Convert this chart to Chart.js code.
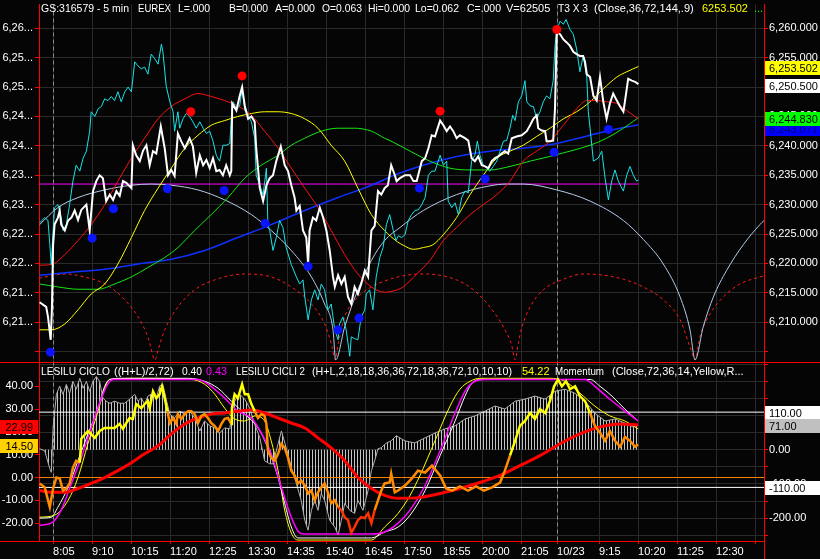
<!DOCTYPE html>
<html><head><meta charset="utf-8">
<script src="https://cdn.jsdelivr.net/npm/chart.js@4.4.1/dist/chart.umd.min.js"></script>
<style>html,body{margin:0;padding:0;background:#050505;overflow:hidden}canvas{display:block}</style>
</head><body><canvas id="c" width="820" height="559"></canvas>
<script>
// ---------- axes / ticks ----------
const X_RANGE = [0, 241.67];
const TICK_BARS = [4.7,17.7,30.7,43.7,56.7,69.7,82.7,95.7,108.7,121.7,134.7,147.7,160.7,172.7,186.7,199.7,212.7,225.7,238.7];
const TIME_LABELS = ['8:05','9:10','10:15','11:20','12:25','13:30','14:35','15:40','16:45','17:50','18:55','20:00','21:05','10/23','9:15','10:20','11:25','12:30',''];
const DAY_BREAKS = [4.7, 172.7];
const TOP_TICKS = [6205,6210,6215,6220,6225,6230,6235,6240,6245,6250,6255,6260];
const TOP_RANGE = [6203.14, 6264.05];
const LOW_TICKS = [-20,-10,0,10,20,30,40];
const LOW_RANGE = [-27.83, 50.43];
const OSC_TICKS = [-250,-200,-150,-100,-50,0,50,100,150,200,250];
const OSC_LABELED = [0,-100,-200];
const OSC_RANGE = [-266.6, 255.1];

// ---------- price panel series ([bar, value]) ----------
const PRICE = [[0.2,6213.4],[2.4,6212.6],[3.0,6210.9],[3.9,6207.0],[4.3,6212.1],[4.7,6223.2],[5.2,6226.6],[6.3,6227.8],[6.9,6229.0],[7.4,6226.6],[8.6,6225.6],[9.7,6227.3],[10.8,6227.8],[11.9,6229.0],[13.0,6227.4],[14.1,6229.1],[15.8,6230.0],[16.9,6225.6],[18.0,6232.3],[19.1,6234.0],[20.2,6235.0],[21.3,6234.5],[22.4,6230.6],[23.6,6231.7],[24.7,6230.8],[25.8,6232.3],[26.9,6231.5],[28.0,6234.0],[29.1,6233.7],[30.8,6232.8],[31.3,6240.1],[32.4,6238.4],[33.6,6237.4],[34.7,6239.2],[35.8,6240.1],[36.9,6236.7],[38.0,6239.1],[39.1,6238.7],[40.6,6243.3],[41.9,6239.6],[43.0,6235.0],[44.1,6235.9],[45.2,6234.9],[46.3,6242.1],[47.4,6240.8],[48.6,6239.6],[50.2,6241.3],[51.3,6239.9],[52.4,6235.4],[53.6,6238.4],[54.7,6236.7],[55.8,6237.6],[56.9,6236.2],[58.0,6237.9],[59.1,6235.7],[60.2,6235.9],[61.3,6235.0],[62.4,6236.7],[63.6,6235.0],[64.1,6235.7],[64.4,6247.2],[65.8,6246.0],[66.9,6248.5],[67.7,6250.0],[68.6,6246.8],[69.7,6244.6],[70.8,6245.0],[71.9,6244.1],[72.4,6239.6],[73.6,6232.8],[74.7,6230.6],[75.8,6233.3],[76.9,6234.5],[78.0,6235.0],[79.1,6237.4],[80.6,6239.9],[81.9,6236.7],[83.0,6235.7],[84.1,6233.3],[85.2,6231.2],[85.8,6229.0],[86.9,6229.8],[88.0,6225.6],[89.1,6224.4],[89.7,6219.9],[90.2,6225.6],[91.3,6227.8],[92.4,6227.3],[93.6,6229.5],[94.7,6227.8],[95.8,6225.6],[96.9,6222.2],[98.0,6217.7],[98.6,6216.0],[99.7,6218.0],[100.8,6216.5],[101.9,6217.7],[103.0,6214.3],[104.1,6213.1],[105.2,6216.0],[106.3,6214.8],[107.4,6216.5],[108.6,6218.8],[109.7,6217.7],[110.8,6225.6],[111.9,6226.4],[113.0,6232.3],[114.1,6231.7],[115.2,6232.8],[116.3,6233.3],[117.4,6236.7],[118.6,6235.0],[119.2,6234.0],[120.3,6234.5],[122.0,6235.0],[123.7,6235.0],[124.8,6234.0],[125.9,6234.0],[127.6,6237.4],[128.7,6237.9],[129.8,6239.6],[130.9,6241.8],[132.0,6241.6],[133.7,6244.3],[134.8,6243.5],[135.9,6242.5],[137.0,6243.3],[138.1,6242.5],[139.2,6241.3],[140.3,6241.8],[142.0,6241.3],[143.1,6240.9],[144.2,6237.9],[145.3,6237.4],[146.4,6238.2],[147.6,6236.7],[148.7,6236.5],[149.8,6236.2],[150.9,6237.4],[152.0,6237.9],[153.1,6238.2],[154.2,6238.7],[155.3,6239.1],[156.4,6238.7],[157.6,6241.3],[159.2,6241.6],[160.9,6241.8],[162.6,6242.5],[163.7,6243.5],[164.8,6244.6],[165.9,6245.2],[166.4,6243.0],[167.6,6242.6],[168.7,6242.5],[169.2,6240.8],[170.3,6240.8],[171.4,6240.9],[172.0,6246.3],[172.6,6259.3],[173.7,6259.0],[174.8,6258.1],[175.9,6257.6],[177.0,6257.0],[178.1,6256.0],[179.2,6255.6],[180.3,6255.3],[181.4,6255.3],[182.0,6254.3],[182.6,6252.2],[183.7,6251.7],[184.8,6248.5],[185.9,6247.7],[187.0,6251.7],[188.1,6247.5],[189.2,6244.6],[190.3,6247.2],[191.4,6248.9],[192.6,6247.7],[193.7,6246.7],[194.8,6245.8],[195.3,6247.5],[196.4,6251.4],[197.6,6251.1],[198.7,6250.9],[199.8,6250.5]];

const T3_LEAD = [[0.2,6226.9],[1.9,6227.8],[3.0,6227.3],[3.6,6223.2],[4.1,6219.8],[4.7,6225.6],[5.2,6229.5],[6.3,6230.0],[7.4,6227.8],[8.0,6225.6],[9.1,6226.6],[10.2,6230.0],[11.3,6234.0],[12.4,6236.7],[13.6,6235.7],[14.7,6237.9],[15.8,6239.1],[16.9,6242.5],[17.4,6245.8],[18.6,6245.0],[19.7,6246.3],[20.8,6246.7],[21.9,6248.0],[23.0,6247.7],[24.1,6248.4],[25.2,6247.7],[26.3,6249.2],[27.4,6247.5],[28.6,6249.2],[29.7,6250.0],[30.8,6249.2],[31.9,6254.3],[33.0,6253.6],[34.1,6253.1],[35.2,6253.4],[36.3,6252.2],[37.4,6255.6],[38.6,6254.8],[39.7,6253.9],[40.8,6257.3],[41.3,6256.0],[42.4,6250.2],[43.6,6247.5],[44.7,6245.8],[45.2,6242.5],[46.3,6245.8],[46.9,6243.0],[48.0,6244.6],[49.1,6245.5],[50.2,6245.0],[51.3,6244.1],[52.4,6243.0],[53.6,6244.1],[54.7,6243.0],[55.8,6242.1],[56.9,6242.5],[58.0,6240.8],[59.1,6238.4],[60.2,6237.4],[61.3,6240.1],[62.4,6240.1],[63.6,6240.4],[64.1,6244.6],[64.7,6247.5],[65.8,6246.3],[66.9,6246.8],[67.7,6249.7],[68.6,6246.0],[69.7,6245.2],[70.8,6244.1],[71.9,6241.3],[72.4,6235.0],[73.6,6233.3],[74.7,6231.7],[75.8,6236.2],[76.3,6226.6],[76.9,6225.6],[78.0,6222.2],[79.1,6224.4],[80.2,6227.3],[81.3,6226.1],[82.4,6222.7],[84.1,6219.8],[85.8,6217.7],[86.9,6216.5],[88.0,6217.2],[88.6,6214.3],[89.7,6210.4],[90.8,6213.8],[91.9,6215.5],[93.0,6213.8],[94.1,6216.5],[95.2,6215.5],[96.3,6212.1],[97.4,6213.1],[98.6,6208.7],[99.7,6207.0],[100.2,6209.7],[101.3,6210.9],[102.4,6208.7],[103.6,6204.2],[104.1,6207.5],[105.2,6207.2],[106.3,6207.0],[107.4,6210.9],[108.6,6212.1],[109.1,6214.8],[110.2,6215.5],[111.3,6212.1],[112.4,6217.7],[113.6,6221.0],[114.7,6222.7],[115.8,6226.6],[116.9,6228.3],[118.1,6225.6],[119.0,6223.9],[119.8,6224.7],[120.9,6224.4],[122.0,6224.9],[123.1,6227.3],[124.2,6228.3],[125.3,6229.0],[126.4,6229.1],[127.6,6230.0],[128.7,6231.2],[129.8,6235.0],[130.9,6235.7],[132.0,6235.7],[133.1,6237.4],[133.7,6238.4],[134.8,6236.7],[135.9,6237.4],[136.4,6230.6],[137.6,6229.5],[138.7,6230.3],[139.8,6228.3],[140.9,6231.2],[142.0,6232.3],[143.1,6232.0],[144.2,6237.4],[145.3,6238.4],[146.1,6240.8],[147.0,6238.4],[148.1,6236.7],[149.2,6236.2],[150.3,6235.7],[151.4,6236.5],[152.6,6237.4],[153.7,6239.1],[154.8,6240.8],[155.9,6240.9],[157.0,6243.0],[157.9,6245.2],[158.7,6244.3],[159.8,6247.5],[160.9,6248.5],[162.0,6251.1],[162.6,6247.5],[163.7,6246.8],[164.8,6246.7],[165.9,6244.6],[167.0,6245.8],[168.1,6247.5],[169.2,6248.5],[170.3,6248.0],[171.4,6251.1],[172.0,6257.0],[172.6,6259.8],[173.7,6261.2],[174.8,6260.7],[175.7,6261.5],[177.0,6259.8],[178.1,6259.0],[179.2,6256.5],[180.3,6252.6],[181.4,6255.3],[182.6,6251.7],[183.1,6245.8],[183.7,6243.0],[184.8,6237.4],[186.4,6237.9],[187.6,6239.1],[188.7,6234.5],[189.8,6230.8],[190.9,6234.0],[192.0,6235.9],[193.1,6234.0],[194.8,6232.3],[195.9,6235.0],[197.0,6236.5],[198.1,6235.0],[199.2,6234.0],[199.8,6234.2]];

const AVG_36 = [[0.2,6219.7],[4.1,6219.8],[8.6,6221.5],[13.0,6223.9],[17.4,6226.6],[21.9,6230.0],[26.3,6234.0],[30.8,6237.9],[35.2,6241.3],[39.7,6244.6],[44.1,6246.7],[48.6,6248.0],[53.0,6248.9],[57.4,6248.4],[61.9,6247.7],[66.3,6246.8],[70.8,6245.2],[75.2,6242.5],[79.7,6239.6],[84.1,6236.2],[88.6,6232.8],[93.0,6229.5],[97.4,6225.6],[101.9,6221.5],[106.3,6218.2],[110.8,6216.0],[115.2,6215.1],[119.4,6215.5],[121.4,6216.0],[125.9,6218.2],[130.3,6220.5],[134.8,6223.9],[139.2,6226.1],[143.7,6228.3],[148.1,6230.0],[152.6,6231.7],[157.0,6234.0],[161.4,6237.4],[165.9,6239.1],[170.3,6240.8],[174.8,6243.5],[179.2,6246.3],[182.6,6247.7],[185.9,6247.7],[189.2,6247.5],[192.6,6247.2],[195.9,6246.0],[199.8,6244.6]];

const T3_LINE = [[0.2,6208.7],[4.1,6208.7],[8.6,6209.7],[13.0,6212.1],[17.4,6214.8],[21.9,6216.5],[26.3,6219.9],[30.8,6224.4],[35.2,6229.0],[39.7,6232.8],[44.1,6236.2],[48.6,6239.6],[53.0,6241.8],[57.4,6243.5],[61.9,6244.3],[66.3,6245.0],[70.8,6245.5],[75.2,6245.8],[79.7,6245.8],[84.1,6245.5],[88.6,6244.6],[93.0,6243.0],[97.4,6240.1],[101.9,6237.4],[106.3,6232.8],[110.8,6228.3],[115.2,6225.6],[119.4,6223.7],[121.4,6223.1],[124.8,6222.4],[128.1,6222.7],[131.4,6223.2],[134.8,6224.9],[139.2,6227.8],[143.7,6231.7],[148.1,6235.0],[152.6,6237.9],[157.0,6239.1],[161.4,6240.1],[165.9,6241.6],[170.3,6243.0],[174.8,6244.6],[179.2,6245.8],[183.7,6247.5],[188.1,6249.7],[192.6,6251.7],[195.9,6252.6],[199.8,6253.5]];

const AVG_72 = [[0.2,6216.5],[6.3,6216.0],[13.0,6215.6],[19.7,6215.6],[25.2,6216.5],[30.8,6217.7],[36.3,6219.3],[41.9,6221.0],[46.3,6222.7],[51.9,6225.6],[57.4,6228.3],[63.0,6231.2],[68.6,6234.5],[74.1,6236.7],[79.7,6238.4],[84.1,6240.1],[88.6,6241.3],[94.1,6242.5],[99.7,6243.0],[105.2,6243.0],[110.8,6242.5],[115.2,6241.3],[117.0,6240.9],[123.7,6239.1],[130.3,6237.4],[137.0,6236.2],[143.7,6235.9],[150.3,6235.9],[157.0,6236.5],[163.7,6237.4],[170.3,6238.2],[177.0,6239.1],[183.7,6240.1],[189.2,6241.3],[194.8,6243.0],[199.8,6244.8]];

const AVG_144 = [[0.2,6218.0],[10.8,6218.5],[21.9,6219.0],[33.0,6219.9],[44.1,6220.7],[55.2,6222.2],[66.3,6224.4],[77.4,6226.6],[88.6,6229.0],[99.7,6231.2],[110.8,6233.3],[119.4,6235.2],[128.1,6236.7],[139.2,6238.2],[150.3,6239.1],[161.4,6239.6],[172.6,6240.4],[183.7,6241.8],[189.2,6242.5],[199.8,6243.6]];

const CYCLE_ARC = [[0.2,6226.6],[6.3,6229.5],[13.0,6231.2],[21.9,6232.5],[30.8,6233.3],[37.4,6233.5],[44.1,6233.3],[53.0,6232.5],[61.9,6230.8],[70.8,6228.3],[77.4,6225.6],[84.1,6222.2],[90.8,6217.7],[95.2,6213.1],[98.0,6208.7],[98.9,6203.6],[101.9,6209.2],[106.3,6215.5],[110.8,6220.5],[115.2,6223.9],[120.3,6226.1],[128.1,6229.0],[139.2,6231.7],[150.3,6233.2],[155.9,6233.5],[161.4,6233.5],[172.6,6232.5],[183.7,6230.6],[194.8,6227.3],[201.4,6224.1],[208.1,6219.9],[213.7,6214.3],[217.0,6208.7],[218.7,6203.6],[221.4,6209.2],[224.8,6214.3],[229.2,6218.8],[234.8,6223.2],[240.3,6226.6],[241.67,6227.3]];

const HALF_CYCLE = [[0,6217.5],[9,6218.2],[15,6217.7],[22,6216.5],[28.6,6213.8],[33,6210.9],[36.3,6207.5],[38.7,6203.6],[39.7,6205.3],[41.9,6208.7],[46.3,6212.6],[51.9,6215.5],[58.6,6217.2],[68.6,6218.2],[77.4,6217.7],[84.1,6216.0],[90.8,6213.1],[95.2,6209.7],[97.6,6206.0],[98.7,6203.6],[99.8,6206.5],[101.9,6210.9],[106.3,6214.3],[110.8,6216.0],[116.3,6217.2],[122.6,6218.0],[128.7,6218.2],[139.2,6217.2],[144.8,6215.5],[150.3,6212.6],[154.8,6209.2],[157.6,6206.0],[158.7,6203.6],[159.8,6206.5],[161.0,6209.2],[163.7,6212.6],[168.1,6215.5],[174.8,6217.3],[181.4,6218.2],[188.1,6218.0],[194.8,6217.3],[201.4,6216.0],[208.1,6213.8],[213.7,6210.4],[217.0,6205.8],[218.7,6203.6],[220.3,6207.5],[223.7,6211.4],[228.1,6214.3],[233.7,6216.5],[240.3,6217.7],[241.67,6217.9]];

const CYCLE_LEVEL = 6233.5;
const CYCLE_LEVEL_SPAN = [0, 199.8];
const LOW_MARKS = [[3.8,6204.9],[17.7,6224.3],[24.8,6229.3],[42.8,6232.7],[61.7,6232.4],[75.4,6226.8],[89.7,6219.5],[99.7,6208.7],[106.7,6210.7],[126.8,6232.8],[148.7,6234.4],[171.7,6238.9],[189.8,6242.8]];
const HIGH_MARKS = [[50.6,6245.8],[67.7,6251.9],[133.7,6245.9],[172.6,6259.8]];

// ---------- oscillator panel series ----------
const CICLO_WHITE = [[0.2,-17.8],[4.1,-17.4],[6.3,-13.0],[9.7,-4.3],[13.0,7.4],[16.3,19.1],[19.7,30.4],[21.9,40.0],[23.6,43.0],[27.4,43.5],[38.6,43.5],[49.7,43.5],[55.2,42.2],[59.7,39.1],[64.1,33.5],[68.6,27.8],[73.0,21.7],[76.3,13.0],[79.7,0],[81.9,-11.3],[84.1,-21.7],[86.3,-26.5],[110.8,-26.5],[115.2,-23.9],[119.7,-21.7],[123.7,-16.5],[128.7,-5.7],[133.7,9.6],[138.7,24.8],[142.0,35.7],[144.3,41.3],[147.0,43.0],[183.7,43.0],[187.0,40.0],[191.0,35.7],[195.3,30.0],[199.7,24.8]];
const CICLO_MAGENTA = [[0.2,-20.9],[4.1,-20.0],[7.4,-14.3],[10.8,-2.6],[14.1,8.7],[17.4,21.7],[20.8,34.8],[23.6,42.2],[25.2,43.0],[53.0,43.0],[56.3,40.9],[61.9,34.8],[66.3,29.1],[70.8,26.1],[74.1,19.6],[77.4,10.4],[80.8,-4.3],[84.1,-17.4],[86.9,-24.3],[88.6,-24.8],[110.8,-24.8],[115.2,-23.9],[119.7,-20.0],[123.7,-14.3],[128.7,-3.5],[133.7,11.7],[138.7,28.3],[142.0,37.8],[145.3,42.2],[148.7,43.0],[182.0,43.0],[185.3,40.0],[190.3,34.3],[195.3,29.1],[199.7,24.8]];
const CICLI2_YELLOW = [[0.2,-17.4],[5.2,-16.5],[9.7,-10.0],[13.0,0],[16.3,14.8],[19.7,29.1],[21.9,39.1],[23.6,43.0],[33.0,43.5],[50.7,43.0],[55.2,40.9],[58.6,36.5],[61.9,30.4],[65.2,25.7],[68.6,24.8],[71.9,27.0],[75.2,24.8],[77.4,16.1],[79.7,3.0],[81.9,-14.3],[84.1,-24.3],[86.3,-27.4],[110.8,-27.4],[115.2,-21.7],[119.7,-15.7],[123.7,-7.8],[127.0,0.9],[132.0,16.1],[137.0,31.3],[140.3,38.7],[143.7,42.2],[147.0,43.5],[170.3,43.5],[175.3,42.2],[180.3,37.0],[185.3,31.3],[190.3,27.0],[195.3,24.8],[199.7,21.3]];
const MOMENTUM = [[0.2,-2.6],[1.9,-4.3],[3.6,-13.0],[4.7,-4.8],[5.8,0],[6.9,-0.4],[8.0,-5.7],[9.1,-4.8],[10.2,-2.6],[11.3,4.3],[12.4,7.4],[13.6,6.5],[14.1,17.0],[16.3,20.4],[18.6,17.4],[20.2,20.4],[21.9,21.7],[25.2,21.7],[26.9,23.5],[28.0,21.3],[29.1,23.9],[30.2,26.1],[31.3,25.7],[32.4,32.2],[34.1,30.4],[35.2,32.2],[36.3,33.5],[36.9,30.4],[38.0,37.8],[39.1,34.8],[40.2,36.5],[41.0,40.0],[41.9,34.8],[42.8,29.1],[43.6,23.9],[44.7,26.1],[45.8,23.5],[46.3,27.8],[47.4,25.7],[48.6,27.8],[49.7,29.1],[50.8,29.1],[51.9,27.8],[53.0,23.9],[54.1,27.0],[55.2,27.8],[56.3,26.1],[57.4,23.9],[58.6,22.6],[59.7,20.4],[60.8,23.5],[61.9,25.7],[63.0,26.1],[64.1,23.5],[64.3,30.4],[65.2,36.5],[66.3,34.8],[67.7,40.9],[68.6,36.5],[69.7,36.5],[70.8,32.2],[71.9,29.1],[73.0,26.1],[74.1,27.8],[75.2,27.0],[75.8,23.5],[76.3,11.7],[77.4,8.7],[78.6,7.4],[79.7,10.4],[80.8,14.8],[81.9,13.0],[83.0,8.7],[84.1,3.0],[85.2,0.9],[86.3,-2.6],[87.4,-1.3],[88.6,-3.5],[89.7,-7.0],[90.8,-5.7],[91.9,-10.0],[93.0,-6.5],[94.1,-4.3],[95.2,-2.6],[96.3,-6.5],[97.4,-11.3],[98.6,-10.0],[99.7,-13.0],[100.8,-14.3],[101.9,-17.4],[103.0,-18.7],[104.1,-24.3],[105.2,-21.7],[106.3,-18.7],[107.4,-17.4],[108.6,-17.8],[109.7,-15.7],[110.8,-20.0],[111.9,-14.3],[113.0,-10.0],[114.1,-5.7],[115.2,-2.6],[116.9,-2.2],[117.4,1.7],[118.6,-6.5],[119.7,-5.7],[122.0,-3.5],[124.3,-0.4],[126.3,3.0],[128.7,2.2],[131.0,5.2],[133.7,0.9],[135.7,-4.8],[137.7,-5.7],[140.3,-3.9],[143.0,-5.7],[145.7,-3.9],[148.3,-5.7],[151.0,-4.3],[153.7,-2.2],[155.3,3.0],[157.0,9.6],[158.7,16.1],[160.3,22.6],[162.0,24.8],[163.7,28.3],[165.3,25.7],[167.0,30.0],[168.7,28.3],[170.3,33.5],[171.7,40.0],[173.0,43.0],[174.3,40.0],[175.7,42.2],[177.0,38.7],[178.7,40.0],[180.3,35.7],[182.0,33.5],[183.7,28.3],[185.3,22.6],[187.0,19.6],[188.7,16.1],[190.3,20.4],[192.0,16.1],[193.7,13.5],[195.3,17.8],[197.0,16.1],[198.7,13.5],[199.7,14.5]];
const MOM_RISING_SPANS = [[13.6,42.8],[64.1,71.9],[157.0,183.7]];
const MOM_AVG = [[0.2,-5.7],[4.1,-6.5],[8.6,-6.5],[13.0,-4.8],[17.4,-2.6],[21.9,0],[26.3,3.0],[30.8,6.5],[35.2,10.4],[39.7,13.9],[44.1,19.1],[48.6,23.5],[53.0,26.1],[57.4,27.8],[61.9,28.3],[66.3,29.1],[70.8,29.6],[75.2,28.3],[79.7,26.1],[84.1,23.9],[88.6,21.7],[93.0,17.4],[97.4,13.0],[101.9,7.4],[106.3,0],[110.8,-4.8],[115.2,-7.8],[119.7,-9.1],[127.0,-8.7],[133.7,-7.0],[140.3,-4.8],[147.0,-2.2],[153.7,0.9],[160.3,5.2],[167.0,9.6],[173.7,14.8],[180.3,19.1],[187.0,22.2],[193.7,23.5],[199.7,23.0]];
const MOM_HIST = [[0.2,3],[1.9,-3],[3.6,-55],[4.1,-66],[4.7,65],[5.8,162],[6.9,186],[8.0,162],[9.1,191],[10.2,165],[11.3,200],[12.4,177],[13.6,209],[14.7,180],[15.8,200],[16.9,171],[18.0,200],[19.1,214],[20.2,200],[21.3,151],[22.4,142],[23.6,136],[25.2,142],[26.9,136],[28.6,136],[30.2,148],[31.9,162],[33.0,142],[34.1,151],[35.2,133],[36.3,157],[38.0,165],[39.1,151],[40.2,186],[41.3,191],[42.4,148],[43.6,104],[45.2,93],[46.9,113],[48.6,104],[50.2,113],[51.9,93],[53.6,55],[55.2,84],[56.9,70],[58.6,64],[60.2,49],[61.9,64],[63.6,61],[64.7,133],[65.8,151],[66.9,162],[68.6,148],[70.2,122],[71.9,75],[73.6,35],[75.2,-32],[76.9,-41],[78.0,-41],[79.1,-3],[80.8,55],[82.4,6],[84.1,-52],[85.8,-99],[87.4,-148],[88.6,-206],[89.7,-235],[90.8,-177],[91.9,-148],[93.0,-177],[94.1,-128],[95.2,-148],[96.9,-206],[98.6,-226],[99.7,-249],[100.8,-206],[101.9,-157],[103.6,-177],[105.2,-186],[106.3,-148],[108.0,-177],[109.7,-119],[110.8,-61],[111.9,-32],[113.0,3],[114.1,6],[115.8,20],[117.4,26],[119.1,41],[122.0,26],[125.3,20],[128.7,35],[132.0,49],[135.3,61],[138.7,70],[142.0,90],[145.3,99],[148.7,113],[152.0,128],[155.3,119],[158.7,142],[162.0,148],[165.3,157],[168.7,148],[172.0,171],[175.3,177],[178.7,165],[182.0,142],[185.3,107],[188.7,84],[192.0,90],[195.3,78],[198.0,67],[199.7,71]];
const OSC_BANDS = [110, -110];
const LOW_ZERO = 0;

// ---------- value tags & header texts ----------
const PRICE_TAGS = [6243.071, 6244.83, 6250.5, 6253.502];
const LOW_TAGS = [22.99, 14.50];
const OSC_TAGS = [110, 71, -110];
const TOP_HEADER = ['GS:316579 - 5 min','EUREX','L=.000','B=0.000','A=0.000','O=0.063','Hi=0.000','Lo=0.062','C=.000','V=62505','T3 X 3','(Close,36,72,144,.9)','6253.502','...'];
const LOW_HEADER = ['LESILU CICLO','((H+L)/2,72)','0.40','0.43','LESILU CICLI 2','(H+L,2,18,18,36,36,72,18,36,72,10,10,10)','54.22','Momentum','(Close,72,36,14,Yellow,R...'];

// ---------- styling (not data) ----------
const TOP_HEADER_X = [41,138,178,229,275,322,368,415,467,506,558,594,702,754];
const TOP_HEADER_W = [88,33,32,39,40,40,42,44,34,46,30,100,46,12];
const TOP_HEADER_COL = ['#fff','#fff','#fff','#fff','#fff','#fff','#fff','#fff','#fff','#fff','#fff','#fff','#ffff00','#00ff00'];
const LOW_HEADER_X = [41,114,182,206,236,312,522,555,612];
const LOW_HEADER_W = [69,60,20,21,69,200,29,49,150];
const LOW_HEADER_COL = ['#fff','#fff','#fff','#ff00ff','#fff','#fff','#ffff00','#fff','#fff'];
const PRICE_TAG_BG = ['#0000ff','#00ff00','#ffffff','#ffff00'];
const PRICE_TAG_FG = ['#000080','#000','#000','#000'];
const LOW_TAG_BG = ['#ff0000','#ffd200'];
const OSC_TAG_BG = ['#ffffff','#c0c0c0','#ffffff'];
const FONT = '"Liberation Sans", Arial, sans-serif';
const GRID = '#2a2a2a';

const pts = a => a.map(p => ({x: p[0], y: p[1]}));
const fmt3 = v => v.toLocaleString('en-US', {minimumFractionDigits: 3, maximumFractionDigits: 3});

Chart.defaults.font.family = FONT;
Chart.defaults.font.size = 11;
Chart.defaults.color = '#fff';

const ctx = document.getElementById('c').getContext('2d');

const pc = document.createElement('canvas'); pc.width = 3; pc.height = 1;
const pg = pc.getContext('2d'); pg.fillStyle = '#c4c4c4'; pg.fillRect(0, 0, 1, 1);
const stripe = ctx.createPattern(pc, 'repeat');

const line = (data, color, width, yAxisID, extra) => Object.assign({
  data: pts(data), borderColor: color, borderWidth: width, yAxisID, xAxisID: 'x',
  pointRadius: 0, fill: false, tension: 0
}, extra || {});

const hline = (v, span, color, yAxisID) => line([[span[0], v], [span[1], v]], color, 1, yAxisID);

const datasets = [
  line(HIGH_MARKS, '#ff0000', 0, 'yT', {showLine: false, pointRadius: 4.5, pointBackgroundColor: '#ff0000', pointBorderWidth: 0}),
  line(LOW_MARKS, '#0000ff', 0, 'yT', {showLine: false, pointRadius: 4.5, pointBackgroundColor: '#0a14ff', pointBorderWidth: 0}),
  line(PRICE, '#ffffff', 2, 'yT'),
  line(T3_LEAD, '#19e3e6', 1, 'yT'),
  line(AVG_36, '#ff1010', 1, 'yT', {cubicInterpolationMode: 'monotone'}),
  line(T3_LINE, '#ffff00', 1, 'yT', {cubicInterpolationMode: 'monotone'}),
  line(AVG_72, '#14e614', 1, 'yT', {cubicInterpolationMode: 'monotone'}),
  line(AVG_144, '#1030ff', 1.5, 'yT', {cubicInterpolationMode: 'monotone'}),
  line(CYCLE_ARC, '#b4cbe8', 1, 'yT', {cubicInterpolationMode: 'monotone'}),
  hline(CYCLE_LEVEL, CYCLE_LEVEL_SPAN, '#ff00ff', 'yT'),
  line(HALF_CYCLE, '#ff1a1a', 1, 'yT', {borderDash: [3, 3], cubicInterpolationMode: 'monotone'}),

  line(MOMENTUM, '#ff8c00', 2.5, 'yB', {segment: {borderColor: c => {
    const x0 = c.p0.parsed.x, x1 = c.p1.parsed.x;
    if (MOM_RISING_SPANS.some(s => x0 >= s[0] && x1 <= s[1])) return '#ffff00';
    if (c.p0.parsed.y < -12 && c.p1.parsed.y < -12) return '#ff3300';
    return '#ff8c00';
  }}}),
  line(MOM_AVG, '#ff0000', 3, 'yB', {cubicInterpolationMode: 'monotone'}),
  line(CICLO_MAGENTA, '#ff00ff', 1.5, 'yB', {cubicInterpolationMode: 'monotone'}),
  line(CICLO_WHITE, '#ffffff', 1, 'yB', {cubicInterpolationMode: 'monotone'}),
  line(CICLI2_YELLOW, '#ffff00', 1, 'yB', {cubicInterpolationMode: 'monotone'}),
  hline(LOW_ZERO, X_RANGE, '#ff8000', 'yB'),
  hline(OSC_BANDS[0], X_RANGE, '#ffffff', 'yBR'),
  hline(OSC_BANDS[1], X_RANGE, '#ffffff', 'yBR'),
  line(MOM_HIST, '#b0b0b0', 1, 'yBR', {fill: 'origin', backgroundColor: stripe})
];

function tag(g, x0, x1, yc, bg, fg, text, tx, align) {
  g.fillStyle = bg; g.fillRect(x0, Math.round(yc - 7), x1 - x0, 14);
  g.fillStyle = fg; g.textAlign = align; g.textBaseline = 'middle';
  g.fillText(text, tx, Math.round(yc) + 0.5);
}

const deco = {
  id: 'deco',
  beforeDraw(c) {
    const g = c.ctx; g.save(); g.fillStyle = '#050505'; g.fillRect(0, 0, c.width, c.height); g.restore();
  },
  beforeDatasetsDraw(c) {
    const g = c.ctx, x = c.scales.x, a = c.chartArea;
    g.save(); g.strokeStyle = '#8c8c8c'; g.lineWidth = 1; g.setLineDash([4, 3]);
    DAY_BREAKS.forEach(b => {
      const px = Math.round(x.getPixelForValue(b)) + 0.5;
      g.beginPath(); g.moveTo(px, a.top); g.lineTo(px, a.bottom); g.stroke();
    });
    g.restore();
  },
  afterDraw(c) {
    const g = c.ctx, a = c.chartArea;
    const yT = c.scales.yT, yTR = c.scales.yTR, yB = c.scales.yB, yBR = c.scales.yBR;
    g.save();
    g.strokeStyle = '#ff0000'; g.lineWidth = 1;
    const sep = Math.round(yT.bottom) + 0.5;
    g.beginPath(); g.moveTo(0, sep); g.lineTo(c.width, sep); g.stroke();
    const bot = Math.round(a.bottom) + 0.5;
    g.beginPath(); g.moveTo(0, bot); g.lineTo(a.right, bot); g.stroke();
    const rx = Math.round(a.right) + 0.5;
    g.beginPath(); g.moveTo(rx, a.bottom); g.lineTo(rx, c.height); g.stroke();
    g.font = '11px ' + FONT; g.textBaseline = 'alphabetic'; g.textAlign = 'left';
    TOP_HEADER.forEach((t, i) => { g.fillStyle = TOP_HEADER_COL[i]; g.fillText(t, TOP_HEADER_X[i], 12, TOP_HEADER_W[i]); });
    const lowBase = Math.round(yB.top) + 13;
    LOW_HEADER.forEach((t, i) => { g.fillStyle = LOW_HEADER_COL[i]; g.fillText(t, LOW_HEADER_X[i], lowBase, LOW_HEADER_W[i]); });
    const rx0 = Math.round(a.right) + 1;
    PRICE_TAGS.forEach((v, i) => tag(g, rx0, c.width, yTR.getPixelForValue(v) + 1.5, PRICE_TAG_BG[i], PRICE_TAG_FG[i], fmt3(v), rx0 + 4, 'left'));
    OSC_TAGS.forEach((v, i) => tag(g, rx0, c.width, yBR.getPixelForValue(v) + 1, OSC_TAG_BG[i], '#000', v.toFixed(2), rx0 + 4, 'left'));
    LOW_TAGS.forEach((v, i) => tag(g, 0, Math.round(a.left) - 1, yB.getPixelForValue(v) + 1.5, LOW_TAG_BG[i], '#000', v.toFixed(2), Math.round(a.left) - 6, 'right'));
    g.restore();
  }
};

const noPad = s => { s.paddingTop = 0; s.paddingBottom = 0; s.paddingLeft = 0; s.paddingRight = 0; };
const fitW = w => s => { s.width = w; noPad(s); };
const tickFont = {family: FONT, size: 11};
new Chart(ctx, {
  type: 'line',
  data: {datasets},
  plugins: [deco],
  options: {
    responsive: false, animation: false, devicePixelRatio: 1,
    layout: {padding: 0},
    plugins: {legend: {display: false}, tooltip: {enabled: false}},
    scales: {
      x: {
        type: 'linear', position: 'bottom', min: X_RANGE[0], max: X_RANGE[1],
        afterBuildTicks: s => { s.ticks = TICK_BARS.map(v => ({value: v})); },
        afterFit: s => { s.height = 18; noPad(s); },
        ticks: {autoSkip: false, maxRotation: 0, minRotation: 0, align: 'start', padding: 1, color: '#fff', font: tickFont,
          callback: (v, i) => TIME_LABELS[i] || ''},
        grid: {color: GRID, tickColor: '#ff0000', tickLength: 3},
        border: {color: '#ff0000'}
      },
      yT: {
        type: 'linear', position: 'left', stack: 'L', stackWeight: 361, weight: 1,
        min: TOP_RANGE[0], max: TOP_RANGE[1],
        afterBuildTicks: s => { s.ticks = TOP_TICKS.map(v => ({value: v})); },
        afterFit: fitW(39),
        ticks: {autoSkip: false, padding: 2, color: '#fff', font: tickFont,
          callback: v => v === TOP_TICKS[0] ? '' : fmt3(v).slice(0, 4) + '...'},
        grid: {color: GRID, tickColor: '#ff0000', tickLength: 4},
        border: {color: '#ff0000'}
      },
      yTR: {
        type: 'linear', position: 'right', stack: 'R', stackWeight: 361, weight: 0,
        min: TOP_RANGE[0], max: TOP_RANGE[1],
        afterBuildTicks: s => { s.ticks = TOP_TICKS.map(v => ({value: v})); },
        afterFit: fitW(56),
        ticks: {autoSkip: false, padding: 1, color: '#fff', font: tickFont,
          callback: v => v === TOP_TICKS[0] ? '' : fmt3(v)},
        grid: {drawOnChartArea: false, tickColor: '#ff0000', tickLength: 4},
        border: {color: '#ff0000'}
      },
      yB: {
        type: 'linear', position: 'left', stack: 'L', stackWeight: 180, weight: 0,
        min: LOW_RANGE[0], max: LOW_RANGE[1],
        afterBuildTicks: s => { s.ticks = LOW_TICKS.map(v => ({value: v})); },
        afterFit: fitW(39),
        ticks: {autoSkip: false, padding: 2, color: '#fff', font: tickFont, callback: v => v.toFixed(2)},
        grid: {drawOnChartArea: false, tickColor: '#ff0000', tickLength: 4},
        border: {color: '#ff0000'}
      },
      yBR: {
        type: 'linear', position: 'right', stack: 'R', stackWeight: 180, weight: 1,
        min: OSC_RANGE[0], max: OSC_RANGE[1],
        afterBuildTicks: s => { s.ticks = OSC_TICKS.map(v => ({value: v})); },
        afterFit: fitW(56),
        ticks: {autoSkip: false, padding: 1, color: '#fff', font: tickFont,
          callback: v => OSC_LABELED.includes(v) ? v.toFixed(2) : ''},
        grid: {color: GRID, tickColor: '#ff0000', tickLength: 4},
        border: {color: '#ff0000'}
      }
    }
  }
});
</script></body></html>
